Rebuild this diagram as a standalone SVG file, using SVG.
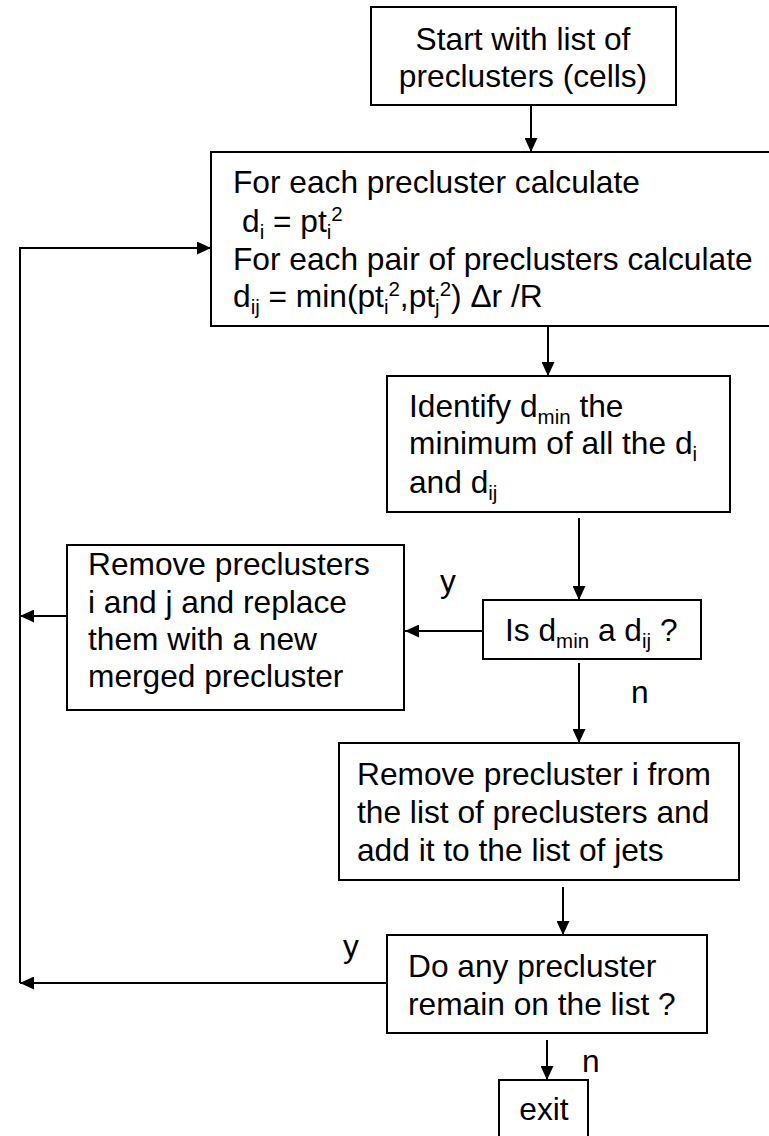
<svg xmlns="http://www.w3.org/2000/svg" width="769" height="1136" viewBox="0 0 769 1136">
<defs>
<marker id="ah" viewBox="0 0 14 13" refX="14" refY="6.5" markerWidth="14" markerHeight="13" markerUnits="userSpaceOnUse" orient="auto">
<path d="M0,0 L14,6.5 L0,13 Z" fill="#000"/>
</marker>
<style>
.box{fill:#fff;stroke:#000;stroke-width:2}
.t{font-family:"Liberation Sans",Arial,sans-serif;font-size:31.7px;fill:#000}
.c{stroke:#000;stroke-width:2;fill:none}
.a{marker-end:url(#ah)}
.sub{font-size:20.5px}
</style>
</defs>
<rect width="769" height="1136" fill="#fff"/>
<g id="connectors">
<line class="c a" x1="531" y1="105" x2="531" y2="152"/>
<line class="c a" x1="548" y1="326" x2="548" y2="376"/>
<line class="c a" x1="579" y1="518" x2="579" y2="600"/>
<line class="c a" x1="483" y1="631" x2="405" y2="631"/>
<line class="c a" x1="67" y1="616" x2="20" y2="616"/>
<line class="c a" x1="579" y1="663" x2="579" y2="743"/>
<line class="c a" x1="563" y1="887" x2="563" y2="935"/>
<line class="c a" x1="387" y1="983" x2="20" y2="983"/>
<polyline class="c a" points="20,983 20,248 211,248"/>
<line class="c a" x1="547" y1="1040" x2="547" y2="1080"/>
<text class="t" x="440" y="592">y</text>
<text class="t" x="631" y="703">n</text>
<text class="t" x="343" y="957">y</text>
<text class="t" x="582" y="1072">n</text>
</g>
<g id="start">
<rect class="box" x="371" y="7" width="305" height="98"/>
<text class="t" x="523" y="50" text-anchor="middle">Start with list of</text>
<text class="t" x="523" y="87" text-anchor="middle">preclusters (cells)</text>
</g>
<g id="calc">
<rect class="box" x="211" y="152" width="570" height="174"/>
<text class="t" x="233" y="193">For each precluster calculate</text>
<text class="t" x="242" y="232">d<tspan class="sub" dy="7">i</tspan><tspan dy="-7"> = pt</tspan><tspan class="sub" dy="7">i</tspan><tspan class="sub" dy="-18">2</tspan></text>
<text class="t" x="233" y="270">For each pair of preclusters calculate</text>
<text class="t" x="233" y="307">d<tspan class="sub" dy="7">ij</tspan><tspan dy="-7"> = min(pt</tspan><tspan class="sub" dy="7">i</tspan><tspan class="sub" dy="-18">2</tspan><tspan dy="11">,pt</tspan><tspan class="sub" dy="7">j</tspan><tspan class="sub" dy="-18">2</tspan><tspan dy="11">) Δr /R</tspan></text>
</g>
<g id="identify">
<rect class="box" x="387" y="376" width="343" height="136"/>
<text class="t" x="409" y="417">Identify d<tspan class="sub" dy="7">min</tspan><tspan dy="-7"> the</tspan></text>
<text class="t" x="409" y="454">minimum of all the d<tspan class="sub" dy="7">i</tspan></text>
<text class="t" x="409" y="493">and d<tspan class="sub" dy="7">ij</tspan></text>
</g>
<g id="isdmin">
<rect class="box" x="483" y="600" width="218" height="59"/>
<text class="t" x="505" y="641">Is d<tspan class="sub" dy="7">min</tspan><tspan dy="-7"> a d</tspan><tspan class="sub" dy="7">ij</tspan><tspan dy="-7"> ?</tspan></text>
</g>
<g id="merge">
<rect class="box" x="67" y="545" width="337" height="165"/>
<text class="t" x="88" y="575">Remove preclusters</text>
<text class="t" x="88" y="613">i and j and replace</text>
<text class="t" x="88" y="650">them with a new</text>
<text class="t" x="88" y="687">merged precluster</text>
</g>
<g id="removei">
<rect class="box" x="339" y="743" width="400" height="137"/>
<text class="t" x="357" y="785">Remove precluster i from</text>
<text class="t" x="357" y="823">the list of preclusters and</text>
<text class="t" x="357" y="861">add it to the list of jets</text>
</g>
<g id="remain">
<rect class="box" x="387" y="935" width="320" height="98"/>
<text class="t" x="408" y="977">Do any precluster</text>
<text class="t" x="408" y="1015">remain on the list ?</text>
</g>
<g id="exit">
<rect class="box" x="499" y="1080" width="89" height="70"/>
<text class="t" x="544" y="1120" text-anchor="middle">exit</text>
</g>
</svg>
